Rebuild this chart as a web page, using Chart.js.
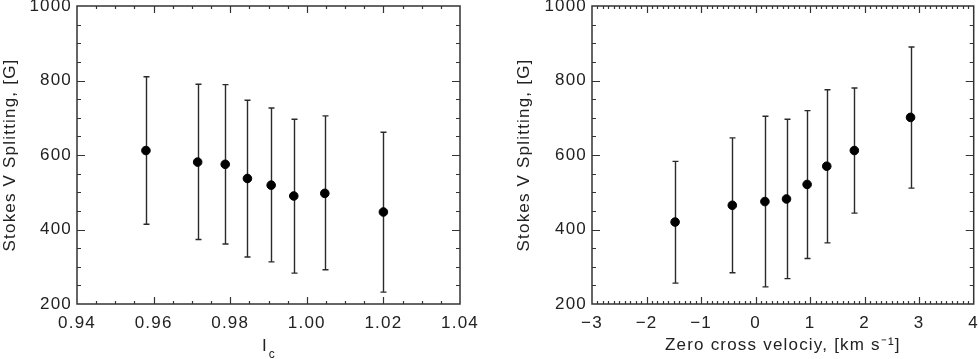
<!DOCTYPE html>
<html>
<head>
<meta charset="utf-8">
<script src="https://cdn.jsdelivr.net/npm/chart.js@4"></script>
<style>
  html, body { margin: 0; padding: 0; background: #fff; }
  #wrap { position: relative; width: 979px; height: 359px; overflow: hidden; }
  canvas { position: absolute; top: 0; }
</style>
</head>
<body>
<div id="wrap">
  <canvas id="leftChart" width="490" height="359" style="left:0"></canvas>
  <canvas id="rightChart" width="489" height="359" style="left:490px"></canvas>
</div>
<script>
// left panel: continuum intensity I_c
const icX = [0.958, 0.9715, 0.9787, 0.9845, 0.9907, 0.9966, 1.0047, 1.020];
const icSplit = [612, 581, 575, 537, 519, 490, 497, 447];
const icLow = [414, 373, 361, 326, 313, 283, 292, 232];
const icHigh = [810, 790, 789, 747, 726, 696, 705, 661];

// right panel: zero cross velocity
const velX = [-1.476, -0.427, 0.171, 0.567, 0.945, 1.305, 1.811, 2.842];
const velSplit = [420, 465, 475, 482, 521, 570, 612, 701];
const velLow = [256, 284, 246, 268, 322, 364, 444, 511];
const velHigh = [583, 646, 704, 696, 719, 775, 780, 890];

const yTitle = 'Stokes V Splitting, [G]';
const velTitle = 'Zero cross velociy, [km s\u207B\u00B9]';

const SPACING = '1.2px';
const INK = '#222';
const FONT = { family: '"Liberation Sans", Arial, sans-serif', size: 17 };

const frameTicks = {
    id: 'frameTicks',
    beforeLayout(chart) { chart.ctx.letterSpacing = SPACING; },
    beforeDraw(chart) { chart.ctx.letterSpacing = SPACING; },
    beforeDatasetsDraw(chart, args, opts) {
        const { ctx, scales: { x, y } } = chart;
        const pts = chart.data.datasets[0].data;
        ctx.save();
        ctx.strokeStyle = '#2a2a2a';
        ctx.lineWidth = 1.4;
        pts.forEach((p, i) => {
            const px = Math.round(x.getPixelForValue(p.x)) + 0.5;
            const lo = y.getPixelForValue(opts.low[i]);
            const hi = y.getPixelForValue(opts.high[i]);
            ctx.beginPath();
            ctx.moveTo(px, lo); ctx.lineTo(px, hi);
            ctx.moveTo(px - 3, lo); ctx.lineTo(px + 3, lo);
            ctx.moveTo(px - 3, hi); ctx.lineTo(px + 3, hi);
            ctx.stroke();
        });
        ctx.restore();
    },
    afterDraw(chart, args, opts) {
        const { ctx, chartArea: a, scales: { x, y } } = chart;
        ctx.save();
        ctx.strokeStyle = '#333';
        ctx.lineWidth = 1.5;
        ctx.strokeRect(a.left, a.top, a.right - a.left, a.bottom - a.top);
        ctx.lineWidth = 1.2;
        ctx.beginPath();
        // x ticks, bottom and top, pointing in
        let n = Math.round((x.max - x.min) / opts.xMinor);
        for (let i = 1; i < n; i++) {
            const v = x.min + i * opts.xMinor;
            const r = v / opts.xMajor;
            const len = Math.abs(r - Math.round(r)) < 1e-6 ? 7 : 3;
            const px = Math.round(x.getPixelForValue(v)) + 0.5;
            ctx.moveTo(px, a.bottom); ctx.lineTo(px, a.bottom - len);
            ctx.moveTo(px, a.top); ctx.lineTo(px, a.top + len);
        }
        n = Math.round((y.max - y.min) / opts.yMinor);
        for (let i = 1; i < n; i++) {
            const v = y.min + i * opts.yMinor;
            const r = v / opts.yMajor;
            const len = Math.abs(r - Math.round(r)) < 1e-6 ? 8 : 4;
            const py = Math.round(y.getPixelForValue(v)) + 0.5;
            ctx.moveTo(a.left, py); ctx.lineTo(a.left + len, py);
            ctx.moveTo(a.right, py); ctx.lineTo(a.right - len, py);
        }
        ctx.stroke();
        if (opts.sub) {
            // axis title I with subscript c
            ctx.fillStyle = INK;
            ctx.textAlign = 'left';
            ctx.textBaseline = 'alphabetic';
            ctx.font = '17px ' + FONT.family;
            const wI = ctx.measureText('I').width;
            ctx.font = '12px ' + FONT.family;
            const wc = ctx.measureText('c').width;
            const cx = (a.left + a.right) / 2 - (wI + wc) / 2;
            ctx.font = '17px ' + FONT.family;
            ctx.fillText('I', cx, 351);
            ctx.font = '12px ' + FONT.family;
            ctx.fillText('c', cx + wI + 1, 358);
        }
        ctx.restore();
    }
};

function makeConfig(xs, ys, low, high, xOpts, yWidth, titlePad, padRight, extra) {
    return {
        type: 'scatter',
        data: {
            datasets: [{
                data: xs.map((v, i) => ({ x: v, y: ys[i] })),
                backgroundColor: '#000',
                borderColor: '#000',
                pointRadius: 4.3,
                pointHoverRadius: 4.3
            }]
        },
        options: {
            responsive: false,
            animation: false,
            events: [],
            layout: { padding: { left: 0, right: padRight, top: 0, bottom: 0 } },
            plugins: {
                legend: { display: false },
                tooltip: { enabled: false },
                frameTicks: Object.assign({ low: low, high: high, yMinor: 50, yMajor: 200 }, extra)
            },
            scales: {
                x: Object.assign({
                    type: 'linear',
                    grid: { display: false, drawTicks: false },
                    border: { display: false },
                    afterFit(s) { s.height = 55; s.paddingRight = 4; }
                }, xOpts),
                y: {
                    type: 'linear',
                    min: 200,
                    max: 1000,
                    grid: { display: false, drawTicks: false },
                    border: { display: false },
                    ticks: { stepSize: 200, padding: 5, color: INK, font: FONT, callback: v => String(v) },
                    title: { display: true, text: yTitle, color: INK, font: FONT, padding: { top: titlePad, bottom: 0 } },
                    afterFit(s) { s.width = yWidth; s.paddingTop = 6; }
                }
            }
        },
        plugins: [frameTicks]
    };
}

new Chart(document.getElementById('leftChart'), makeConfig(
    icX, icSplit, icLow, icHigh,
    {
        min: 0.94, max: 1.04,
        ticks: { stepSize: 0.02, padding: 9, color: INK, font: FONT, maxRotation: 0,
                 callback: v => v.toFixed(2) }
    },
    77, 0, 30, { xMinor: 0.005, xMajor: 0.02, sub: true }
));

new Chart(document.getElementById('rightChart'), makeConfig(
    velX, velSplit, velLow, velHigh,
    {
        min: -3, max: 4,
        ticks: { stepSize: 1, padding: 9, color: INK, font: FONT, maxRotation: 0,
                 callback: v => v < 0 ? '\u2212' + Math.abs(v) : String(v) },
        title: { display: true, text: velTitle, color: INK, font: FONT, padding: { top: 0, bottom: 3 } }
    },
    102, 24, 4, { xMinor: 0.1, xMajor: 1, sub: false }
));
</script>
</body>
</html>
